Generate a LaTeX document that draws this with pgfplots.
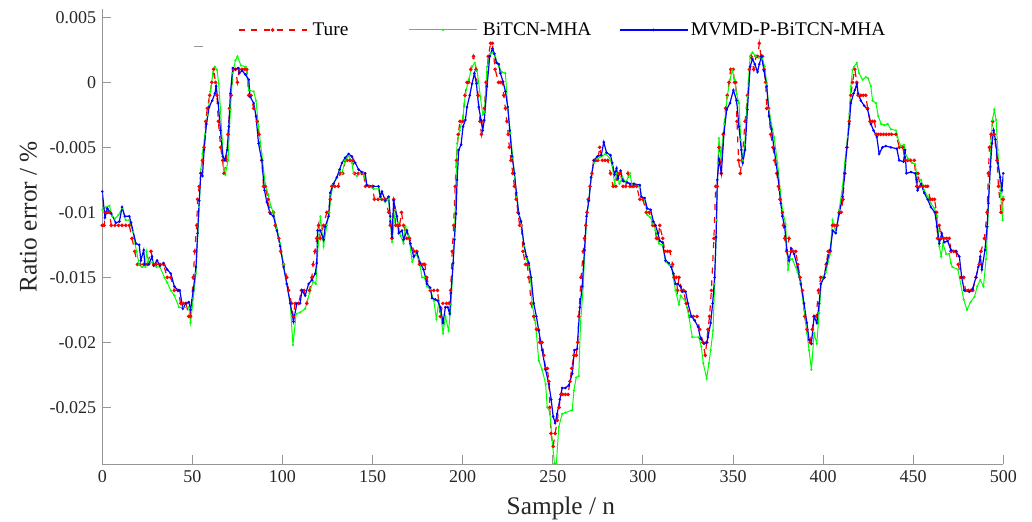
\documentclass[border=0pt]{standalone}
\usepackage{pgfplots}
\pgfplotsset{compat=1.18}
\usepackage{fontspec}
\setmainfont{Liberation Serif}
\definecolor{axgray}{RGB}{150,150,150}
\definecolor{limegr}{RGB}{0,255,0}
\newcommand{\tl}[1]{\mbox{\fontsize{13.5}{13.5}\selectfont\rmfamily #1}}
\begin{document}
\begin{tikzpicture}
\begin{axis}[
  scale only axis, width=675.75pt, height=341.5pt,
  xmin=0, xmax=500, ymin=-0.02938, ymax=0.00564,
  axis x line*=bottom, axis y line*=left,
  axis line style={draw=axgray, line width=0.8pt},
  tick style={draw=axgray, line width=0.7pt},
  tick align=inside, major tick length=6.75pt,
  xtick={0,50,100,150,200,250,300,350,400,450,500},
  xticklabels={\tl{0},\tl{50},\tl{100},\tl{150},\tl{200},\tl{250},\tl{300},\tl{350},\tl{400},\tl{450},\tl{500}},
  ytick={-0.025,-0.02,-0.015,-0.01,-0.005,0,0.005},
  yticklabels={\tl{-0.025},\tl{-0.02},\tl{-0.015},\tl{-0.01},\tl{-0.005},\tl{0},\tl{0.005}},
  scaled y ticks=false, scaled x ticks=false,
  tick label style={text=black!85},
  xticklabel style={yshift=-1pt},
  yticklabel style={xshift=-1pt},
  xlabel={Sample / n}, ylabel={Ratio error / \%},
  label style={font=\fontsize{19}{19}\selectfont, text=black!85},
  xlabel style={at={(axis description cs:0.509,0)}, anchor=center, yshift=-32.8pt},
  ylabel style={at={(axis description cs:0,0.544)}, anchor=center, yshift=55.5pt},
  legend columns=3,
  legend style={at={(axis description cs:0.1504,0.954)}, anchor=west, draw=none, fill=none,
    font=\fontsize{14.5}{14.5}\selectfont, inner sep=0pt},
  legend image code/.code={\draw[mark repeat=2,mark phase=2,#1] plot coordinates {(0pt,0pt) (25.5pt,0pt) (51pt,0pt)};},
]
\addplot[red, line width=0.9pt, dash pattern=on 4.5pt off 5pt, mark=*, mark size=0.85pt, mark options={solid}] coordinates {
(0,-0.011) (1,-0.011) (2,-0.010) (3,-0.010) (4,-0.010) (5,-0.011) (7,-0.011) (9,-0.011) (11,-0.011) (13,-0.011) (15,-0.011) (16.5,-0.012) (18,-0.013) (19.5,-0.014) (21,-0.014) (23,-0.014) (25,-0.014) (27,-0.013) (28.5,-0.014) (30,-0.014) (32,-0.014) (34,-0.014) (36,-0.015) (38,-0.015) (40,-0.016) (42,-0.016) (43.5,-0.017) (45,-0.017) (46.5,-0.017) (48,-0.018) (49,-0.018) (50.5,-0.015) (51.3,-0.013) (52.4,-0.011) (52.9,-0.009) (53.8,-0.008) (54.7,-0.007) (55.6,-0.006) (56.5,-0.005) (57.4,-0.003) (58.3,-0.002) (59.6,-0.001) (60.8,0) (61.8,0.001) (62.8,0) (63.6,-0.001) (64.4,-0.003) (65.7,-0.005) (66.8,-0.006) (67.5,-0.007) (69,-0.006) (69.8,-0.004) (70.6,-0.002) (71.5,-0.001) (72.8,0.001) (74,0.001) (75,0) (76,0.001) (77.5,0.001) (79,0.001) (80.2,0.001) (81.3,-0.001) (82.5,-0.001) (84,-0.002) (86,-0.003) (87,-0.004) (88.5,-0.006) (89.5,-0.008) (90.5,-0.008) (92,-0.009) (93,-0.010) (95,-0.010) (96,-0.011) (98,-0.012) (99,-0.013) (100.6,-0.014) (102.4,-0.015) (103.4,-0.016) (105,-0.017) (106,-0.018) (107,-0.017) (109,-0.017) (110.5,-0.016) (112,-0.016) (113.5,-0.017) (115,-0.016) (116.3,-0.015) (117,-0.014) (118,-0.013) (119,-0.012) (120,-0.011) (121,-0.012) (122.8,-0.011) (124.6,-0.010) (125.5,-0.010) (126.5,-0.009) (127.4,-0.008) (129,-0.008) (131,-0.008) (132,-0.007) (133.5,-0.007) (134.8,-0.006) (136,-0.006) (137.5,-0.006) (139,-0.006) (140,-0.007) (142,-0.007) (144,-0.007) (145,-0.007) (146,-0.008) (148,-0.008) (150,-0.008) (151,-0.009) (153,-0.009) (155,-0.009) (157,-0.009) (158.9,-0.010) (159.8,-0.011) (160.8,-0.012) (161.7,-0.009) (162.8,-0.011) (164,-0.011) (165,-0.011) (166,-0.010) (167.2,-0.011) (169,-0.012) (170.5,-0.012) (173,-0.013) (174.5,-0.013) (176,-0.014) (178,-0.014) (179,-0.014) (180,-0.015) (182,-0.016) (184,-0.016) (186,-0.016) (187.6,-0.018) (189,-0.017) (191,-0.017) (192.5,-0.017) (193.3,-0.016) (194.2,-0.013) (195,-0.011) (195.8,-0.008) (196.5,-0.006) (197.5,-0.004) (198.5,-0.003) (200,-0.003) (201.3,-0.001) (202.4,0) (203.3,0) (204.5,0.001) (206,0.002) (207.4,0.001) (208.5,-0.001) (209.6,-0.003) (210.4,-0.004) (211.5,-0.003) (212,-0.002) (213,0) (214.2,0.002) (215.5,0.003) (216.5,0.003) (218,0.001) (219.9,0) (221,0) (222,0) (222.8,-0.001) (223.7,-0.002) (224.5,-0.003) (225.3,-0.004) (225.9,-0.005) (226.8,-0.006) (227.8,-0.007) (228.7,-0.008) (229.7,-0.009) (230.7,-0.010) (231.6,-0.011) (232.5,-0.011) (233.5,-0.013) (234.8,-0.014) (235.8,-0.014) (236.7,-0.015) (238,-0.017) (239.4,-0.018) (240.9,-0.019) (242,-0.019) (242.7,-0.020) (244,-0.020) (245,-0.021) (246,-0.022) (247,-0.022) (247.8,-0.023) (248.3,-0.025) (249,-0.027) (250.2,-0.028) (251.3,-0.027) (252.5,-0.026) (253.5,-0.025) (254.5,-0.024) (255.5,-0.024) (257,-0.024) (258.5,-0.024) (259.5,-0.023) (260.5,-0.022) (261.7,-0.021) (263,-0.021) (263.8,-0.020) (264.4,-0.018) (265.7,-0.015) (266.9,-0.013) (267.6,-0.012) (268.3,-0.011) (269,-0.010) (269.7,-0.009) (270.7,-0.008) (271.7,-0.007) (272.8,-0.006) (274,-0.006) (275,-0.006) (276,-0.005) (277.5,-0.006) (279,-0.006) (280.5,-0.006) (282,-0.007) (283.5,-0.008) (285,-0.008) (286,-0.007) (287.5,-0.007) (289,-0.008) (290.5,-0.008) (291.7,-0.007) (292.8,-0.008) (294,-0.008) (295,-0.008) (296.5,-0.008) (298.3,-0.009) (300,-0.009) (301.9,-0.010) (303.5,-0.010) (305.5,-0.011) (306.5,-0.011) (307.5,-0.012) (308.5,-0.012) (309.3,-0.011) (311,-0.012) (312.2,-0.013) (313.7,-0.013) (315,-0.013) (316.5,-0.014) (317.3,-0.015) (318.5,-0.015) (319.2,-0.016) (320,-0.015) (321.5,-0.016) (322.5,-0.016) (324,-0.017) (326,-0.018) (328,-0.018) (330,-0.018) (331.5,-0.019) (333.3,-0.020) (334.6,-0.021) (335.4,-0.020) (336.1,-0.019) (337,-0.018) (338,-0.016) (339.4,-0.012) (340.4,-0.008) (341.3,-0.008) (342.2,-0.005) (343.5,-0.007) (344.6,-0.004) (345.9,-0.002) (346.8,-0.001) (347.8,0) (348.7,0.001) (350.1,0.001) (350.8,0) (351.5,0) (352.2,-0.003) (353.1,-0.006) (354,-0.007) (355,-0.006) (356.7,-0.003) (358,-0.001) (359.1,0.001) (360,0.002) (361.5,0.001) (362.8,0.002) (363.7,0.002) (364.6,0.003) (365.5,0.002) (366.4,0.002) (367.2,0.001) (368.1,0) (368.7,-0.002) (369.7,-0.002) (370.9,-0.004) (372.2,-0.005) (373.1,-0.006) (374.3,-0.007) (375.2,-0.008) (376.1,-0.009) (377.4,-0.010) (378,-0.011) (378.7,-0.012) (379.8,-0.013) (381.1,-0.012) (382.3,-0.013) (383.5,-0.013) (384.8,-0.013) (386,-0.014) (387.2,-0.015) (388.5,-0.016) (389.8,-0.018) (391,-0.019) (392.8,-0.020) (394,-0.019) (395,-0.018) (396.2,-0.018) (397.4,-0.016) (398.7,-0.015) (400.5,-0.015) (401.7,-0.014) (402.8,-0.013) (404,-0.013) (405.2,-0.011) (406.5,-0.011) (407.9,-0.011) (408.9,-0.010) (410,-0.010) (411,-0.009) (412,-0.007) (413.2,-0.005) (414.5,-0.003) (415.4,-0.001) (416.3,0) (417.6,0.001) (418.7,0) (419.4,-0.001) (420.9,-0.001) (422.3,-0.001) (423.7,-0.001) (424.7,-0.002) (426,-0.003) (427.3,-0.003) (428.5,-0.003) (429.5,-0.004) (430.6,-0.004) (432,-0.004) (433.5,-0.004) (435,-0.004) (436.5,-0.004) (438,-0.004) (440.4,-0.004) (442.3,-0.005) (444.2,-0.005) (445.5,-0.006) (447,-0.006) (448.5,-0.006) (450.6,-0.006) (451.9,-0.008) (452.7,-0.007) (453.7,-0.008) (455.5,-0.008) (457,-0.008) (458,-0.008) (459.4,-0.009) (460.6,-0.009) (461.8,-0.009) (463,-0.010) (463.5,-0.012) (464.5,-0.011) (465.5,-0.012) (467,-0.012) (468.5,-0.012) (470,-0.012) (471,-0.013) (472.5,-0.013) (473.7,-0.013) (475,-0.014) (476.5,-0.015) (478,-0.015) (479,-0.016) (480.5,-0.016) (482,-0.016) (483,-0.016) (484.8,-0.015) (486.6,-0.014) (487.6,-0.013) (489.5,-0.012) (491,-0.010) (491.7,-0.007) (492.3,-0.005) (493.2,-0.004) (494.1,-0.003) (495,-0.004) (496.5,-0.006) (497.3,-0.008) (498.7,-0.010) (499.6,-0.009) (500,-0.009)
};
\addlegendentry{\makebox[72pt][l]{\hspace{2pt}Ture}}
\addplot[limegr, line width=0.75pt, mark=*, mark size=0.4pt] coordinates {
(0,-0.0098) (2,-0.0096) (4,-0.0095) (5.5,-0.0103) (7,-0.0105) (9,-0.0102) (11,-0.0097) (13,-0.0106) (15,-0.0106) (17,-0.0115) (19,-0.0130) (20.5,-0.0140) (22,-0.0142) (24,-0.0142) (24.5,-0.0130) (26,-0.0140) (28,-0.0138) (30,-0.0142) (32,-0.0142) (34.5,-0.0150) (36,-0.0154) (38,-0.0160) (40,-0.0164) (42.6,-0.0173) (45,-0.0173) (48,-0.0173) (49,-0.0185) (50.5,-0.0166) (52,-0.0147) (53.8,-0.0096) (54.7,-0.0067) (55.6,-0.0055) (57,-0.0040) (58.5,-0.0025) (60,-0.0007) (61.5,0.0008) (62.5,0.0012) (63.7,0.00095) (64.6,-0.0001) (65.6,-0.0021) (66.5,-0.0044) (67.4,-0.0067) (68.3,-0.0071) (69.8,-0.0060) (71.1,-0.0021) (72.4,0.0007) (73.9,0.0017) (75,0.0020) (76.9,0.0013) (79.6,0.0012) (81.3,-0.0006) (84,-0.0007) (85.3,-0.0014) (86.7,-0.0034) (88.5,-0.0055) (90.4,-0.0078) (92,-0.0086) (93.7,-0.0096) (95,-0.0100) (96.9,-0.0112) (98.7,-0.0124) (100.6,-0.0140) (102.4,-0.0155) (104.3,-0.0170) (105.8,-0.0202) (107.6,-0.0178) (109.8,-0.0177) (112.6,-0.0174) (115,-0.0162) (117,-0.0153) (118.5,-0.0155) (119.8,-0.0125) (121,-0.0103) (122.8,-0.0126) (124.6,-0.0110) (126,-0.0100) (127,-0.0086) (128.3,-0.0078) (130.2,-0.0073) (131.7,-0.0068) (133,-0.0070) (134.8,-0.0060) (136.7,-0.0056) (138.5,-0.0062) (139.4,-0.0070) (141.3,-0.0072) (143,-0.0070) (145,-0.0070) (146.8,-0.0079) (150.6,-0.0082) (153.3,-0.0082) (154.3,-0.0089) (157,-0.0092) (158.9,-0.0090) (159.8,-0.0105) (160.8,-0.0123) (162.6,-0.0098) (164,-0.0108) (165.5,-0.0118) (167.2,-0.0124) (168.2,-0.0111) (170,-0.0118) (172,-0.0138) (174,-0.0132) (175.8,-0.0136) (177.4,-0.0150) (178.8,-0.0150) (180.2,-0.0157) (182,-0.0159) (184,-0.0168) (185.4,-0.0182) (186.8,-0.0168) (189.1,-0.0193) (190.4,-0.0180) (192.2,-0.0191) (193.5,-0.0171) (194.7,-0.0139) (195.4,-0.0120) (196.3,-0.0075) (196.9,-0.0047) (198.3,-0.0037) (200.2,-0.0026) (201.5,-0.00085) (203.3,0.0002) (205.2,0.0012) (206.7,0.0015) (208,0.0009) (209.8,-0.0011) (211.1,-0.0025) (212,-0.0023) (213.5,0.0012) (215.4,0.0022) (216.5,0.0023) (218,0.0020) (220,0.0012) (221.7,0.0008) (223.7,0.0007) (225,-0.0019) (226.5,-0.0039) (227.8,-0.0058) (228.9,-0.0073) (230,-0.0088) (231.3,-0.0102) (232.6,-0.0110) (234,-0.0126) (235.4,-0.0136) (236.7,-0.0142) (237.6,-0.0150) (238.5,-0.0170) (240.4,-0.0185) (242.2,-0.0214) (244.1,-0.0221) (246,-0.0232) (246.9,-0.0250) (248.3,-0.0253) (249.6,-0.0275) (250.9,-0.0293) (252,-0.0293) (253.3,-0.0265) (255.2,-0.0255) (257,-0.0254) (260.8,-0.0252) (261.7,-0.0237) (263,-0.0227) (264.4,-0.0226) (265.4,-0.0185) (266.9,-0.0157) (267.8,-0.0129) (268.8,-0.0103) (270,-0.0091) (271.3,-0.0073) (272.8,-0.0062) (274.7,-0.0059) (277,-0.0057) (279.2,-0.0055) (281.5,-0.0058) (283,-0.0064) (284.3,-0.0078) (285.4,-0.0070) (287,-0.0078) (288.6,-0.0073) (290.5,-0.0077) (292.8,-0.0070) (293.8,-0.0078) (295,-0.0078) (298.3,-0.0081) (299.1,-0.0088) (301,-0.0090) (302.4,-0.0102) (304.3,-0.0104) (305.8,-0.0109) (307,-0.0114) (308.9,-0.0124) (310.8,-0.0125) (312.6,-0.0138) (314.4,-0.0140) (315.7,-0.0141) (318.1,-0.0160) (320,-0.0171) (320.9,-0.0164) (323.5,-0.0168) (325.5,-0.0180) (327.4,-0.0196) (331,-0.0196) (332.4,-0.0203) (333.5,-0.0216) (335.4,-0.0228) (336.6,-0.0216) (337.6,-0.0206) (338.9,-0.0191) (339.8,-0.0155) (340.9,-0.0106) (341.6,-0.0062) (342.2,-0.0043) (343.3,-0.0057) (345.2,-0.0032) (346.8,-0.0011) (348.3,0.0002) (349.6,0.00095) (350.9,0.0002) (352,-0.0009) (353.3,-0.0016) (354.3,-0.0044) (355.4,-0.0060) (356.5,-0.0048) (358,-0.0011) (359.5,0.0020) (360.8,0.0023) (362.6,0.0020) (364.4,0.0019) (366.3,0.0018) (367.6,0.0012) (368.7,-0.0001) (370,-0.0021) (371.3,-0.0032) (372.8,-0.0042) (374.7,-0.0062) (376.2,-0.0083) (377.4,-0.0098) (379.2,-0.0109) (380.5,-0.0144) (381.6,-0.0136) (382.9,-0.0136) (385.8,-0.0146) (387.6,-0.0154) (389.4,-0.0175) (391,-0.0193) (392.2,-0.0206) (393.5,-0.0221) (395,-0.0193) (396.5,-0.0201) (397.8,-0.0177) (399,-0.0155) (400.2,-0.0149) (401.5,-0.0146) (403.9,-0.0132) (405.2,-0.0106) (407,-0.0115) (408.9,-0.0098) (410.8,-0.0080) (412,-0.0062) (413.6,-0.0042) (414.5,-0.0024) (415.4,-0.0003) (416.3,0.00095) (417.2,0.0012) (418.7,0.0015) (419.9,0.0007) (421.9,0.0002) (423.7,0.0004) (425,0.0003) (426.5,-0.0003) (427.4,-0.0014) (429.3,-0.0016) (430.6,-0.0026) (432.2,-0.0032) (434,-0.0033) (435.8,-0.0032) (437.6,-0.0036) (440.4,-0.0037) (441.2,-0.0042) (443.1,-0.0049) (444.9,-0.0048) (445.9,-0.0056) (447.5,-0.0059) (449.4,-0.0062) (451.1,-0.0063) (452.4,-0.0075) (454.3,-0.0075) (456.1,-0.0083) (458,-0.0088) (459.8,-0.0093) (461.8,-0.0097) (463.3,-0.0103) (464.5,-0.0126) (465.5,-0.0134) (466.5,-0.0124) (468.3,-0.0132) (470,-0.0132) (470.9,-0.0139) (471.7,-0.0142) (474.8,-0.0144) (478,-0.0167) (479.8,-0.0175) (481.8,-0.0169) (484,-0.0165) (485.5,-0.0157) (487.2,-0.0152) (489,-0.0157) (490.4,-0.0136) (491.3,-0.0111) (492.3,-0.0078) (493.2,-0.0044) (494,-0.0029) (495,-0.0021) (496,-0.0029) (496.9,-0.0052) (498.3,-0.0083) (499.6,-0.0106) (500,-0.0088)
};
\addlegendentry{\makebox[102pt][l]{\hspace{2pt}BiTCN-MHA}}
\addplot[blue, line width=0.9pt, mark=*, mark size=0.45pt] coordinates {
(0,-0.0084) (1.5,-0.0104) (2.8,-0.0097) (5,-0.0101) (7.5,-0.0108) (9.5,-0.0107) (11,-0.0096) (12.5,-0.0103) (15,-0.0103) (16,-0.0108) (18.7,-0.0124) (20.5,-0.0125) (21.4,-0.0137) (23,-0.0129) (23.6,-0.0140) (25.8,-0.0140) (27.6,-0.0134) (28.5,-0.0141) (30.4,-0.0137) (32,-0.0141) (34,-0.0139) (36,-0.0144) (38,-0.0147) (40,-0.0157) (42,-0.0160) (43,-0.0160) (44.7,-0.0174) (46.4,-0.0170) (48,-0.0169) (49,-0.0175) (50.5,-0.0160) (52,-0.0142) (52.9,-0.0116) (53.8,-0.0091) (54.7,-0.0070) (55.6,-0.0072) (56.5,-0.0052) (57.8,-0.0032) (59.3,-0.0019) (61,-0.0014) (62.5,-0.00085) (63.2,-0.0003) (64.3,-0.0016) (65.6,-0.0037) (66.9,-0.0057) (68,-0.0060) (69.3,-0.0052) (70.2,-0.0034) (71.1,-0.00085) (72.4,0.0011) (73.9,0.0010) (75.4,0.0011) (76,0.0007) (77.6,0.0009) (79.4,0.0006) (81.3,0.0002) (82,-0.0011) (84,-0.0016) (85.3,-0.0026) (86.7,-0.0047) (88.5,-0.0060) (90,-0.0083) (91.3,-0.0092) (93.2,-0.0101) (95,-0.0103) (96.9,-0.0114) (98.7,-0.0126) (100.6,-0.0142) (102.4,-0.0155) (104.3,-0.0170) (106.1,-0.0184) (108,-0.0170) (109.8,-0.0170) (110.8,-0.0160) (112.6,-0.0164) (114.5,-0.0155) (116.3,-0.0152) (118.2,-0.0147) (119,-0.0139) (119.5,-0.0114) (121,-0.0114) (122.8,-0.0121) (123.7,-0.0111) (125.6,-0.0103) (126.5,-0.0085) (128.3,-0.0078) (130.2,-0.0073) (131.7,-0.0067) (133,-0.0062) (134.8,-0.0058) (136.7,-0.0055) (138.5,-0.0057) (140.4,-0.0062) (142.2,-0.0067) (144,-0.0069) (145.9,-0.0070) (146.8,-0.0079) (150.6,-0.0080) (153.3,-0.0080) (154.3,-0.0088) (155.2,-0.0084) (157,-0.0091) (158.9,-0.0088) (159.8,-0.0103) (160.8,-0.0119) (161.7,-0.0091) (163.5,-0.0103) (164.5,-0.0116) (166.3,-0.0114) (167.2,-0.0121) (169.1,-0.0114) (171,-0.0124) (172.8,-0.0134) (174.6,-0.0131) (176.5,-0.0139) (178.3,-0.0144) (180.2,-0.0155) (182,-0.0158) (183,-0.0166) (184.8,-0.0167) (186.1,-0.0168) (187.6,-0.0173) (189.1,-0.0185) (190.4,-0.0173) (191.7,-0.0173) (192.8,-0.0178) (193.5,-0.0162) (194.7,-0.0139) (195.4,-0.0121) (196.3,-0.0101) (196.9,-0.0075) (197.8,-0.0052) (199.1,-0.0048) (200.2,-0.0034) (201.5,-0.0029) (202.4,-0.0019) (203.9,-0.0010) (205.2,-0.0001) (206.5,0.0007) (207.6,-0.0001) (208.9,-0.0019) (210.2,-0.0029) (211.1,-0.0037) (212,-0.0029) (213.5,-0.0003) (215,0.0020) (216.5,0.0026) (217.6,0.0022) (218.7,0.0015) (220,0.0014) (220.9,0.0007) (222.4,0.00005) (223.7,-0.0007) (225,-0.0019) (226.1,-0.0037) (227.4,-0.0057) (228.7,-0.0070) (229.8,-0.0085) (231.1,-0.0101) (232.4,-0.0107) (233.9,-0.0124) (235.4,-0.0134) (236.7,-0.0139) (238,-0.0150) (239.4,-0.0170) (240.9,-0.0180) (242.2,-0.0191) (244.1,-0.0206) (246,-0.0221) (247.8,-0.0232) (249.1,-0.0244) (250.2,-0.0257) (251.3,-0.0262) (252.4,-0.0255) (253.9,-0.0244) (255.2,-0.0235) (257,-0.0235) (258.9,-0.0233) (260.8,-0.0224) (262,-0.0206) (263.5,-0.0205) (265,-0.0173) (266.3,-0.0157) (267.6,-0.0129) (268.7,-0.0103) (270,-0.0091) (271.3,-0.0073) (272.8,-0.0060) (274.7,-0.0057) (276.9,-0.0056) (278.3,-0.0046) (279.8,-0.0054) (282,-0.0056) (283,-0.0062) (284.3,-0.0071) (285.4,-0.0066) (286.1,-0.0074) (287.6,-0.0068) (289.1,-0.0076) (291.3,-0.0077) (292.8,-0.0078) (295,-0.0078) (298.3,-0.0079) (299.1,-0.0088) (301,-0.0089) (302.4,-0.0097) (304.3,-0.0098) (305.8,-0.0107) (307,-0.0110) (308.3,-0.0116) (309.4,-0.0122) (310.8,-0.0123) (312.6,-0.0137) (314.4,-0.0139) (315.7,-0.0142) (316.9,-0.0147) (318.1,-0.0155) (319.4,-0.0155) (320.9,-0.0157) (321.8,-0.0161) (323.7,-0.0161) (325,-0.0170) (326.9,-0.0180) (328.7,-0.0183) (330.6,-0.0188) (332,-0.0197) (333.9,-0.0201) (335.4,-0.0200) (336.1,-0.0196) (337.6,-0.0185) (338.7,-0.0170) (339.8,-0.0150) (340.6,-0.0119) (341.3,-0.0075) (342.2,-0.0059) (343.5,-0.0070) (345,-0.0039) (346.5,-0.0021) (348.3,-0.0016) (350.2,-0.0006) (352,-0.0014) (353.3,-0.0034) (354.6,-0.0052) (355.4,-0.0062) (356.7,-0.0052) (358,-0.0021) (359.5,0.0012) (360.8,0.0018) (362.1,0.0014) (363.6,0.0008) (364.6,0.0014) (365.8,0.0020) (367.2,0.0009) (368.7,-0.0003) (370,-0.0026) (371.3,-0.0036) (372.8,-0.0051) (374.7,-0.0070) (376.5,-0.0093) (377.4,-0.0103) (378.7,-0.0111) (379.8,-0.0129) (381.1,-0.0137) (382.4,-0.0128) (383.9,-0.0132) (385.8,-0.0142) (387.6,-0.0155) (389.4,-0.0170) (391,-0.0185) (392.2,-0.0198) (393.5,-0.0201) (395,-0.0180) (396.5,-0.0185) (397.8,-0.0170) (398.7,-0.0155) (400.6,-0.0150) (402,-0.0139) (403.9,-0.0129) (405.4,-0.0114) (407,-0.0116) (408.9,-0.0101) (410.8,-0.0088) (412,-0.0070) (413.2,-0.0050) (414.5,-0.0032) (415.4,-0.0016) (416.9,-0.00085) (417.6,-0.0006) (418.7,-0.0001) (419.4,-0.00085) (420.9,-0.0014) (422.8,-0.0018) (424.7,-0.0021) (426.5,-0.0032) (428,-0.0037) (429.8,-0.0042) (431.1,-0.0055) (432.9,-0.0050) (434.8,-0.0049) (437.6,-0.0050) (440.9,-0.0051) (442.2,-0.0060) (444.6,-0.0061) (445.5,-0.0052) (446.2,-0.0070) (448.8,-0.0069) (451.1,-0.0070) (451.9,-0.0075) (452.4,-0.0083) (454.3,-0.0078) (456.1,-0.0085) (458,-0.0090) (459.8,-0.0096) (462,-0.0100) (463.2,-0.0111) (464.5,-0.0124) (465.8,-0.0116) (467.2,-0.0123) (469.1,-0.0122) (470.9,-0.0129) (473.7,-0.0130) (475.6,-0.0134) (476.9,-0.0150) (478.3,-0.0160) (481.1,-0.0161) (482.9,-0.0159) (484.8,-0.0150) (486.1,-0.0142) (487.2,-0.0134) (488.1,-0.0144) (489.8,-0.0129) (491,-0.0111) (491.7,-0.0093) (492.8,-0.0065) (493.7,-0.0047) (494.6,-0.0037) (495.6,-0.0044) (496.9,-0.0062) (498.3,-0.0073) (499.2,-0.0083) (500,-0.0070)
};
\addlegendentry{MVMD-P-BiTCN-MHA}
\addplot[axgray, line width=0.8pt, forget plot] coordinates {(51,0.00274) (56,0.00274)};
\end{axis}
\pgfresetboundingbox
\path (-76.7pt,-42.5pt) rectangle (697.25pt,348.25pt);
\end{tikzpicture}
\end{document}
